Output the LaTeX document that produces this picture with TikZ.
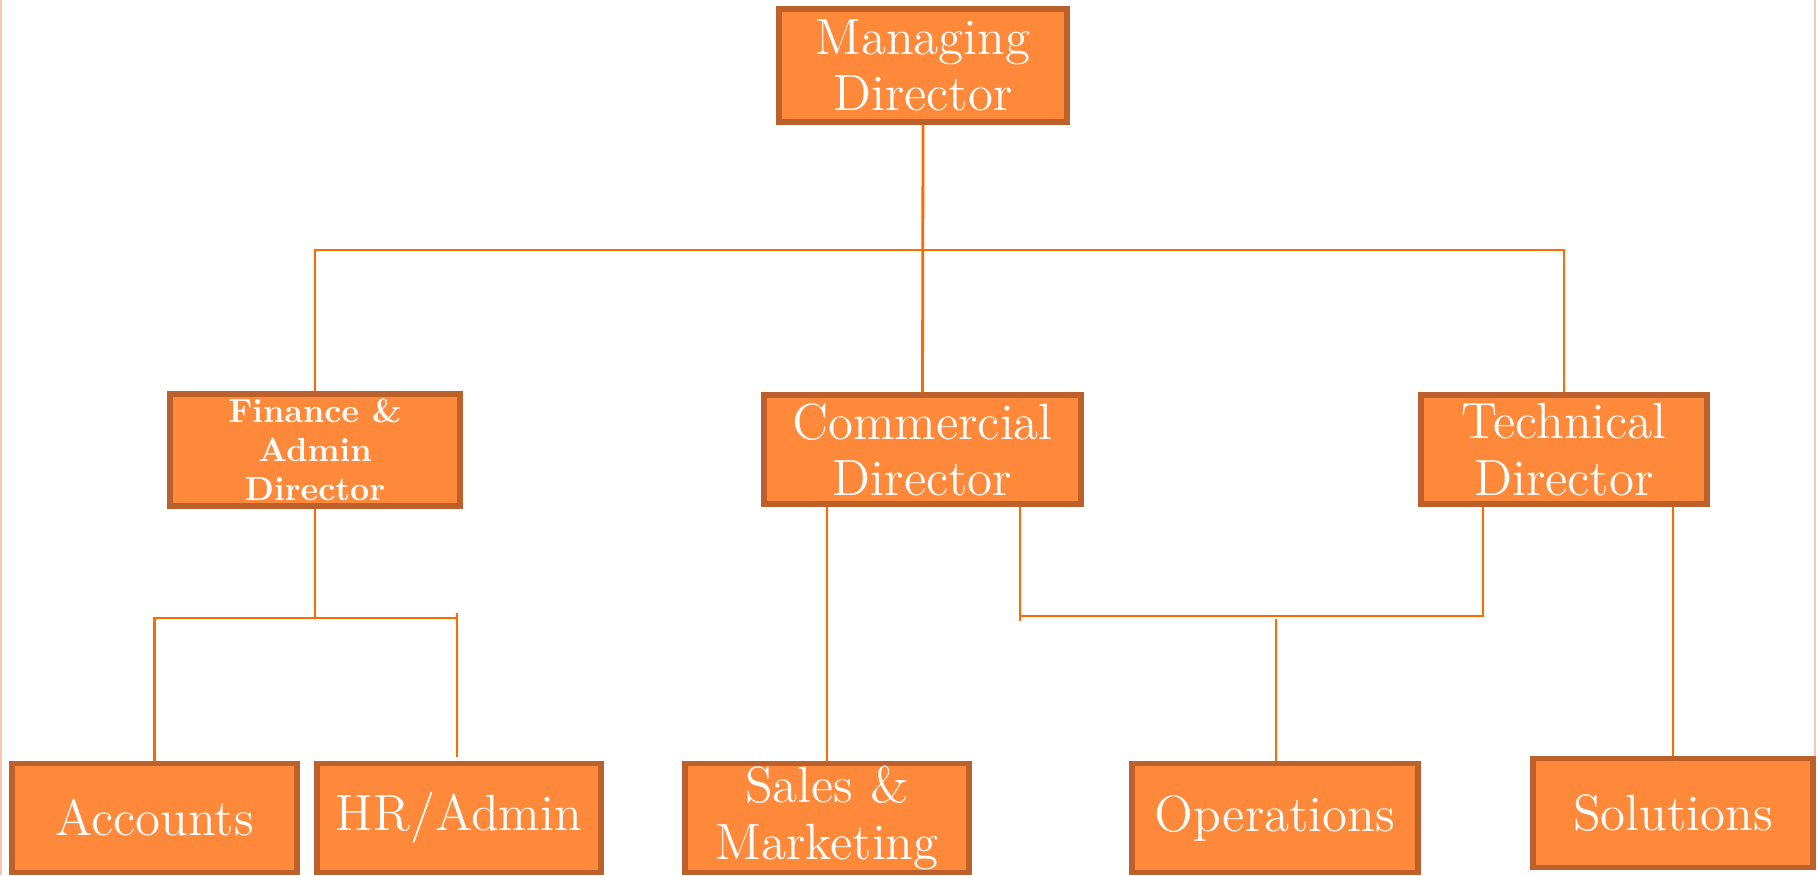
\documentclass[tikz,border=0pt]{standalone}
\usepackage{tikz}

\definecolor{boxfill}{RGB}{255,137,58}
\definecolor{boxedge}{RGB}{188,96,44}
\definecolor{linkcol}{RGB}{255,106,0}
\definecolor{framecol}{RGB}{251,196,175}

\begin{document}
\begin{tikzpicture}[x=1cm, y=-1cm,
	post/.style={draw=boxedge, fill=boxfill, line width=1.5pt, text=white,
		align=center, inner sep=0pt, font=\fontsize{14.5}{16}\selectfont},
	smallpost/.style={post, font=\fontsize{9.5}{11.1}\selectfont\bfseries},
	link/.style={draw=linkcol, line width=0.8pt}]
	
	%\draw[help lines] (0,0) grid (18,9);
	\useasboundingbox (0,0) rectangle (18.17,8.75);
	
	\draw[framecol, line width=0.6pt] (0.01,0) -- (0.01,8.75);
	\draw[framecol, line width=0.6pt] (18.15,0) -- (18.15,7.56);
	
	\node[post, minimum width=2.88cm, minimum height=1.13cm] (md) at (9.23,0.655) {Managing\\Director}; % top
	
	\node[smallpost, minimum width=2.90cm, minimum height=1.12cm] (fin) at (3.15,4.50) {Finance \&\\Admin\\Director};
	\node[post, minimum width=3.17cm, minimum height=1.09cm] (com) at (9.225,4.495) {Commercial\\Director};
	\node[post, minimum width=2.86cm, minimum height=1.09cm] (tech) at (15.64,4.495) {Technical\\Director};
	
	\node[post, minimum width=2.85cm, minimum height=1.09cm] (acc) at (1.545,8.18) {Accounts};
	\node[post, minimum width=2.84cm, minimum height=1.09cm] (hr) at (4.59,8.18) {HR/Admin};
	\node[post, minimum width=2.84cm, minimum height=1.09cm] (sales) at (8.27,8.18) {Sales \&\\Marketing};
	\node[post, minimum width=2.86cm, minimum height=1.09cm] (ops) at (12.75,8.18) {Operations};
	\node[post, minimum width=2.80cm, minimum height=1.09cm] (sol) at (16.73,8.13) {Solutions};
	
	\coordinate (bus1) at (0,2.50);
	\coordinate (bus2) at (0,6.18);
	\coordinate (hrtick) at (4.57,6.13);
	\coordinate (hrend) at (4.57,7.57);
	\coordinate (ctick) at (10.20,6.21);
	\coordinate (cbus) at (10.20,6.16);
	\coordinate (tbus) at (14.83,6.16);
	\coordinate (opstop) at (12.76,6.19);
	
	\draw[link] (md.south) -- (com.north); % md
	\draw[link] (fin.north) -- (fin.north |- bus1) -- (tech.north |- bus1) -- (tech.north);
	
	\draw[link] (fin.south) -- (fin.south |- bus2); % finance
	\draw[link] (acc.north) |- (hrtick |- bus2);
	\draw[link] (hrtick) -- (hrend);
	
	\draw[link] (sales.north) -- (sales.north |- com.south); % commercial
	\draw[link] (com.south -| ctick) -- (ctick);
	\draw[link] (cbus) -- (tbus) -- (tech.south -| tbus);
	\draw[link] (opstop) -- (opstop |- ops.north);
	
	\draw[link] (tech.south -| sol.north) -- (sol.north); % technical
	
\end{tikzpicture}
\end{document}
